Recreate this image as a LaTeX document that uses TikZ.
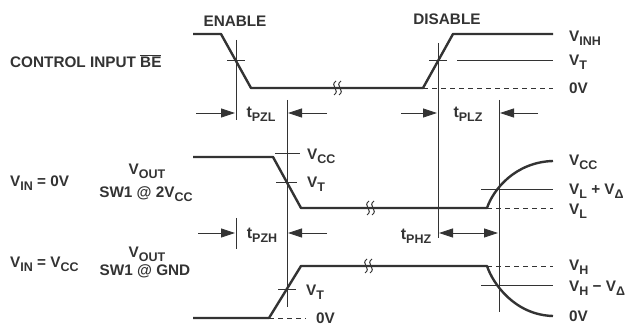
\documentclass[tikz,border=0pt]{standalone}
\usepackage{fontspec}
\setmainfont{Liberation Sans}
\usetikzlibrary{arrows.meta}
\definecolor{ink}{HTML}{333333}
\newcommand{\lo}[1]{\raisebox{-0.45ex}{\fontsize{12.5}{13}\selectfont #1}}

\tikzset{
  brk/.pic={
    \draw[line width=1pt, ink] (-1,-7) .. controls (-8,-2) and (4,2) .. (-3,7);
    \draw[line width=1pt, ink] (4,-7) .. controls (-3,-2) and (9,2) .. (2,7);
  }
}

\begin{document}
\begin{tikzpicture}[x=1pt, y=-1pt, font=\bfseries\fontsize{15.3}{17}\selectfont, text=ink,
  wave/.style={line width=2.4pt, ink, line join=round},
  hair/.style={line width=0.8pt, ink},
  guide/.style={hair, dash pattern=on 5pt off 4pt},
  tip/.style={hair, -{Triangle[length=14pt,width=9pt]}},
  lbl/.style={anchor=west, inner sep=0pt},
  tlbl/.style={inner sep=0pt, font=\bfseries\fontsize{16}{17}\selectfont}]
\useasboundingbox (0,0) rectangle (626,328);

% control input BE
\coordinate (a0) at (193,34);
\coordinate (a1) at (221,34);
\coordinate (a2) at (251,88);
\coordinate (a3) at (423,88);
\coordinate (a4) at (453,34);
\coordinate (a5) at (553,34);
\draw[wave] (a0) -- (a1) -- (a2) -- (a3) -- (a4) -- (a5);
\draw[guide] (a3) -- (553,88);
\draw[hair] (457,60) -- (553,60);
\draw[hair] (227,60) -- (245,60);
\draw[hair] (429,60) -- (447,60);
\pic at (337,88) {brk};

% VOUT, SW1 @ 2VCC
\coordinate (b0) at (193,157);
\coordinate (b1) at (273,157);
\coordinate (b2) at (301,208);
\coordinate (b3) at (487,208);
\coordinate (b4) at (553,161);
\draw[wave] (b0) -- (b1) -- (b2) -- (b3) .. controls (493,190) and (515,162) .. (b4);
\draw[guide] (b3) -- (553,208);
\draw[hair] (481,189) -- (553,189);
\draw[hair] (275,153) -- (300,153);
\draw[hair] (276,182) -- (297,182);
\pic at (370,208) {brk};

% VOUT, SW1 @ GND
\coordinate (c0) at (193,318);
\coordinate (c1) at (269,318);
\coordinate (c2) at (301,266);
\coordinate (c3) at (487,266);
\coordinate (c4) at (553,316);
\draw[wave] (c0) -- (c1) -- (c2) -- (c3) .. controls (493,284) and (515,315) .. (c4);
\draw[guide] (c1) -- (306,318);
\draw[guide] (c3) -- (553,266);
\draw[hair] (481,285) -- (553,285);
\draw[hair] (278,289) -- (296,289);
\pic at (368,266) {brk};

% timing marks
\draw[hair] (236,40) -- (236,120);
\draw[hair] (236,218) -- (236,249);
\draw[hair] (287,100) -- (287,307);
\draw[hair] (438,43) -- (438,238);
\draw[hair] (499,100) -- (499,312);
\draw[tip] (196,113) -- (235,113);
\draw[tip] (327,113) -- (288,113);
\draw[tip] (401,113) -- (437,113);
\draw[tip] (538,113) -- (500,113);
\draw[tip] (198,233) -- (235,233);
\draw[tip] (327,233) -- (288,233);
\draw[hair, {Triangle[length=14pt,width=9pt]}-{Triangle[length=14pt,width=9pt]}] (439,233) -- (498,233);

% labels
\node[inner sep=0pt] (en) at (235,21) {ENABLE};
\node[inner sep=0pt] (dis) at (447,19) {DISABLE};
\node[lbl] (ctl) at (10,61) {CONTROL INPUT $\overline{\mbox{BE}}$};
\node[lbl] (vinh) at (569,38) {V\lo{INH}};
\node[lbl] (vt1) at (569,62) {V\lo{T}};
\node[lbl] (ov1) at (569,88) {0V};
\node[lbl] (vcc) at (569,162) {V\lo{CC}};
\node[lbl] (vld) at (569,191) {V\lo{L} + V\lo{Δ}};
\node[lbl] (vl) at (569,211) {V\lo{L}};
\node[lbl] (vh) at (569,267) {V\lo{H}};
\node[lbl] (vhd) at (569,288) {V\lo{H} − V\lo{Δ}};
\node[lbl] (ov3) at (569,316) {0V};
\node[lbl] (vcc2) at (307,156) {V\lo{CC}};
\node[lbl] (vt2) at (307,184) {V\lo{T}};
\node[lbl] (vt3) at (306,292) {V\lo{T}};
\node[lbl] (ov2) at (316,318) {0V};
\node[tlbl] (tpzl) at (261,114) {t\lo{PZL}};
\node[tlbl] (tplz) at (468,114) {t\lo{PLZ}};
\node[tlbl] (tpzh) at (262,235) {t\lo{PZH}};
\node[tlbl] (tphz) at (416,236) {t\lo{PHZ}};
\node[lbl] (vin1) at (10,183) {V\lo{IN} = 0V};
\node[inner sep=0pt] (vo1) at (147,171) {V\lo{OUT}};
\node[inner sep=0pt] (sw1) at (146,194) {SW1 @ 2V\lo{CC}};
\node[lbl] (vin2) at (10,264) {V\lo{IN} = V\lo{CC}};
\node[inner sep=0pt] (vo2) at (147,254) {V\lo{OUT}};
\node[inner sep=0pt] (sw2) at (145,271) {SW1 @ GND};
\end{tikzpicture}
\end{document}
